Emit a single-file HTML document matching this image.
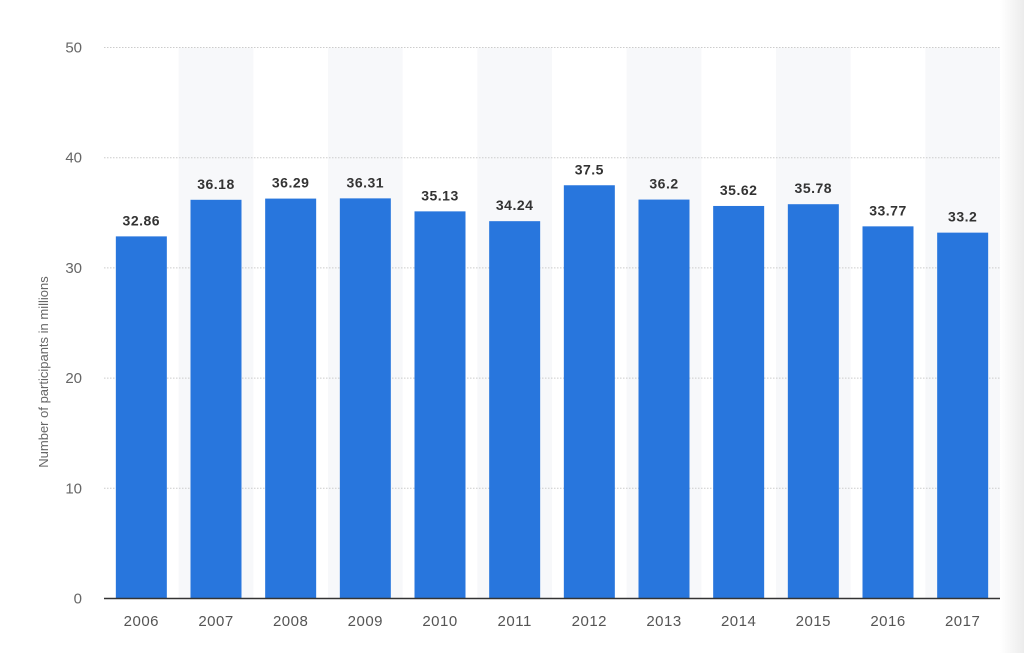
<!DOCTYPE html>
<html><head><meta charset="utf-8"><style>
body{margin:0;background:#fff;width:1024px;height:653px;overflow:hidden;font-family:"Liberation Sans","DejaVu Sans",sans-serif}
</style></head><body>
<svg width="1024" height="653">
<defs><linearGradient id="sh" x1="0" x2="1"><stop offset="0" stop-color="#fff"/><stop offset="1" stop-color="#ececec"/></linearGradient></defs>
<rect x="1000" y="0" width="24" height="653" fill="url(#sh)"/>
<g id="bands"></g><g id="grid"></g><g id="bars"></g><g id="labels"></g>
<line x1="104" x2="1000" y1="598.5" y2="598.5" stroke="#333" stroke-width="1.5"/>
<text transform="translate(48,372) rotate(-90)" text-anchor="middle" font-size="13" fill="#666">Number of participants in millions</text>
</svg>
<script>
const categories=["2006","2007","2008","2009","2010","2011","2012","2013","2014","2015","2016","2017"];
const values=[32.86,36.18,36.29,36.31,35.13,34.24,37.5,36.2,35.62,35.78,33.77,33.2];
const valueLabels=["32.86","36.18","36.29","36.31","35.13","34.24","37.5","36.2","35.62","35.78","33.77","33.2"];
const yTicks=[0,10,20,30,40,50];
const NS="http://www.w3.org/2000/svg";
const x0=104,x1=1000,yBase=598.5,yTop=47.5,yMax=50;
const slot=(x1-x0)/categories.length, bw=51;
const y=v=>yBase-(v/yMax)*(yBase-yTop);
const xc=i=>x0+slot*(i+0.5);
function mk(t,a,p){const e=document.createElementNS(NS,t);for(const k in a)e.setAttribute(k,a[k]);document.getElementById(p).appendChild(e);return e;}
categories.forEach((c,i)=>{if(i%2===1){const r=mk('rect',{x:x0+slot*i,y:yTop,width:slot,height:yBase-yTop,fill:'#f7f8fa'},'bands');

}});
yTicks.forEach(t=>{if(t>0){const l=mk('line',{x1:x0,x2:x1,y1:y(t),y2:y(t),stroke:'#ccc','stroke-dasharray':'1.5 1.5'},'grid');

}
const tx=mk('text',{x:82,y:y(t)+5,'text-anchor':'end','font-size':'15',fill:'#666'},'labels');tx.textContent=t;

});
categories.forEach((c,i)=>{const v=values[i];
const r=mk('rect',{x:xc(i)-bw/2,y:y(v),width:bw,height:yBase-y(v),fill:'#2876dd'},'bars');


const vl=mk('text',{x:xc(i),y:y(v)-11,'text-anchor':'middle','font-size':'14','font-weight':'bold',fill:'#333','letter-spacing':'0.5'},'labels');vl.textContent=valueLabels[i];


const xl=mk('text',{x:xc(i),y:626,'text-anchor':'middle','font-size':'15',fill:'#555','letter-spacing':'0.5'},'labels');xl.textContent=c;

});
</script>
</body></html>
